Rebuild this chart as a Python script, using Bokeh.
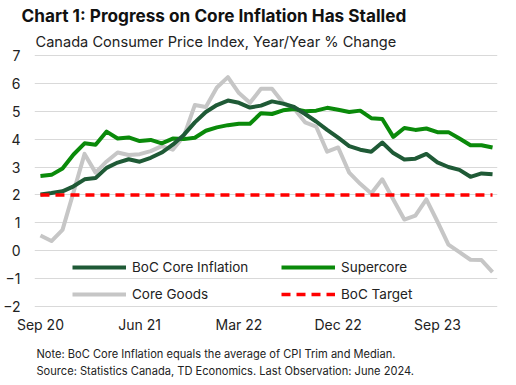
from bokeh.plotting import figure
from bokeh.layouts import column
from bokeh.models import Legend, LegendItem, Title, FixedTicker, Label
from bokeh.embed import file_html
from bokeh.resources import INLINE

# ---- data (monthly index) ----
months = list(range(42))
tick_pos = [0, 9, 18, 27, 36]
tick_labels = ["Sep 20", "Jun 21", "Mar 22", "Dec 22", "Sep 23"]

boc_core = [2.02, 2.07, 2.13, 2.31, 2.56, 2.61, 2.97, 3.16, 3.28, 3.19,
            3.33, 3.52, 3.80, 4.15, 4.60, 4.97, 5.22, 5.38, 5.30, 5.13,
            5.20, 5.35, 5.27, 5.15, 4.90, 4.63, 4.33, 4.05, 3.75, 3.62,
            3.55, 3.88, 3.50, 3.27, 3.30, 3.47, 3.17, 3.00, 2.90, 2.65,
            2.77, 2.74]
supercore = [2.68, 2.72, 2.95, 3.45, 3.85, 3.80, 4.27, 4.02, 4.06, 3.93,
             3.97, 3.85, 4.02, 4.00, 4.05, 4.30, 4.42, 4.50, 4.55, 4.55,
             4.93, 4.90, 5.03, 5.08, 5.00, 5.02, 5.12, 5.05, 4.97, 5.02,
             4.75, 4.72, 4.08, 4.40, 4.33, 4.38, 4.25, 4.25, 4.02, 3.78,
             3.78, 3.70]
core_goods = [0.55, 0.35, 0.75, 2.10, 3.47, 2.80, 3.20, 3.52, 3.43, 3.46,
              3.57, 3.75, 3.62, 4.10, 5.22, 5.15, 5.85, 6.22, 5.65, 5.30,
              5.80, 5.80, 5.30, 5.10, 4.60, 4.45, 3.55, 3.70, 2.80, 2.40,
              2.05, 2.56, 1.84, 1.12, 1.26, 1.84, 1.05, 0.22, -0.05, -0.32,
              -0.33, -0.76]
boc_target = [2.0, 2.0]
target_x = [months[0], months[-1]]

title_text = "Chart 1: Progress on Core Inflation Has Stalled"
subtitle_text = "Canada Consumer Price Index, Year/Year % Change"
note_text = "Note: BoC Core Inflation equals the average of CPI Trim and Median."
source_text = "Source: Statistics Canada, TD Economics. Last Observation: June 2024."

DARK = "#1f5a36"
GREEN = "#0a8a0a"
GREY = "#c6c6c6"
RED = "#ff0000"
FONT = "Inter"
TXT = "#222222"

p = figure(width=500, height=335, output_backend="svg", toolbar_location=None,
           x_range=(-0.54, 41.45), y_range=(-2.03, 7.03),
           min_border_left=28, min_border_right=3, min_border_top=50,
           min_border_bottom=0)
p.outline_line_color = None
p.background_fill_color = "white"
p.border_fill_color = "white"

r_goods = p.line(months, core_goods, line_color=GREY, line_width=4, line_join="round")
r_super = p.line(months, supercore, line_color=GREEN, line_width=4, line_join="round")
r_core = p.line(months, boc_core, line_color=DARK, line_width=4, line_join="round")
r_target = p.line(target_x, boc_target, line_color=RED, line_width=3.5, line_dash="9 6")

# axes
p.xaxis.ticker = FixedTicker(ticks=tick_pos)
p.xaxis.major_label_overrides = {t: l for t, l in zip(tick_pos, tick_labels)}
p.yaxis.ticker = FixedTicker(ticks=list(range(-2, 8)))
for ax in (p.xaxis, p.yaxis):
    ax.axis_line_color = None
    ax.major_tick_line_color = None
    ax.minor_tick_line_color = None
    ax.major_tick_out = 0
    ax.major_tick_in = 0
    ax.minor_tick_out = 0
    ax.minor_tick_in = 0
    ax.major_label_text_font = FONT
    ax.major_label_text_font_size = "14px"
    ax.major_label_text_color = TXT
p.xaxis.major_label_standoff = 8
p.yaxis.major_label_standoff = 14
p.xgrid.grid_line_color = None
p.ygrid.grid_line_color = "#d9d9d9"
p.ygrid.grid_line_width = 1

# legends
def mk_legend(items, x, y):
    return Legend(items=items, location=(x, y), orientation="vertical",
                  padding=0, margin=0, spacing=7, glyph_width=54, glyph_height=20,
                  label_standoff=6, border_line_color=None, background_fill_alpha=0,
                  label_text_font=FONT, label_text_font_size="13.5px",
                  label_text_color=TXT)

lg1 = mk_legend([LegendItem(label="BoC Core Inflation", renderers=[r_core]),
                 LegendItem(label="Core Goods", renderers=[r_goods])], 38, 3)
lg2 = mk_legend([LegendItem(label="Supercore", renderers=[r_super]),
                 LegendItem(label="BoC Target", renderers=[r_target])], 247, 3)
p.add_layout(lg1, "center")
p.add_layout(lg2, "center")

# titles
def mk_title(text, size, style, color, offset, standoff):
    return Title(text=text, text_font=FONT, text_font_size=size,
                 text_font_style=style, text_color=color, align="left",
                 offset=offset, standoff=standoff)

p.add_layout(mk_title(subtitle_text, "14.6px", "normal", TXT, 1, 7), "above")
p.add_layout(mk_title(title_text, "17.2px", "bold", "#111111", -13, 4), "above")

# footnote strip
q = figure(width=500, height=42, output_backend="svg", toolbar_location=None,
           x_axis_type=None, y_axis_type=None, x_range=(0, 1), y_range=(0, 1),
           min_border_left=0, min_border_right=0, min_border_top=0,
           min_border_bottom=0)
q.outline_line_color = None
q.grid.grid_line_color = None
q.background_fill_color = "white"
q.border_fill_color = "white"

def mk_note(text, y):
    return Label(x=2, y=y, x_units="screen", y_units="screen", text=text,
                 text_font=FONT, text_font_size="11.1px", text_color=TXT,
                 text_align="left", text_baseline="middle")

q.add_layout(mk_note(note_text, 24))
q.add_layout(mk_note(source_text, 7))

open("out.html", "w").write(file_html(column(p, q), INLINE))
